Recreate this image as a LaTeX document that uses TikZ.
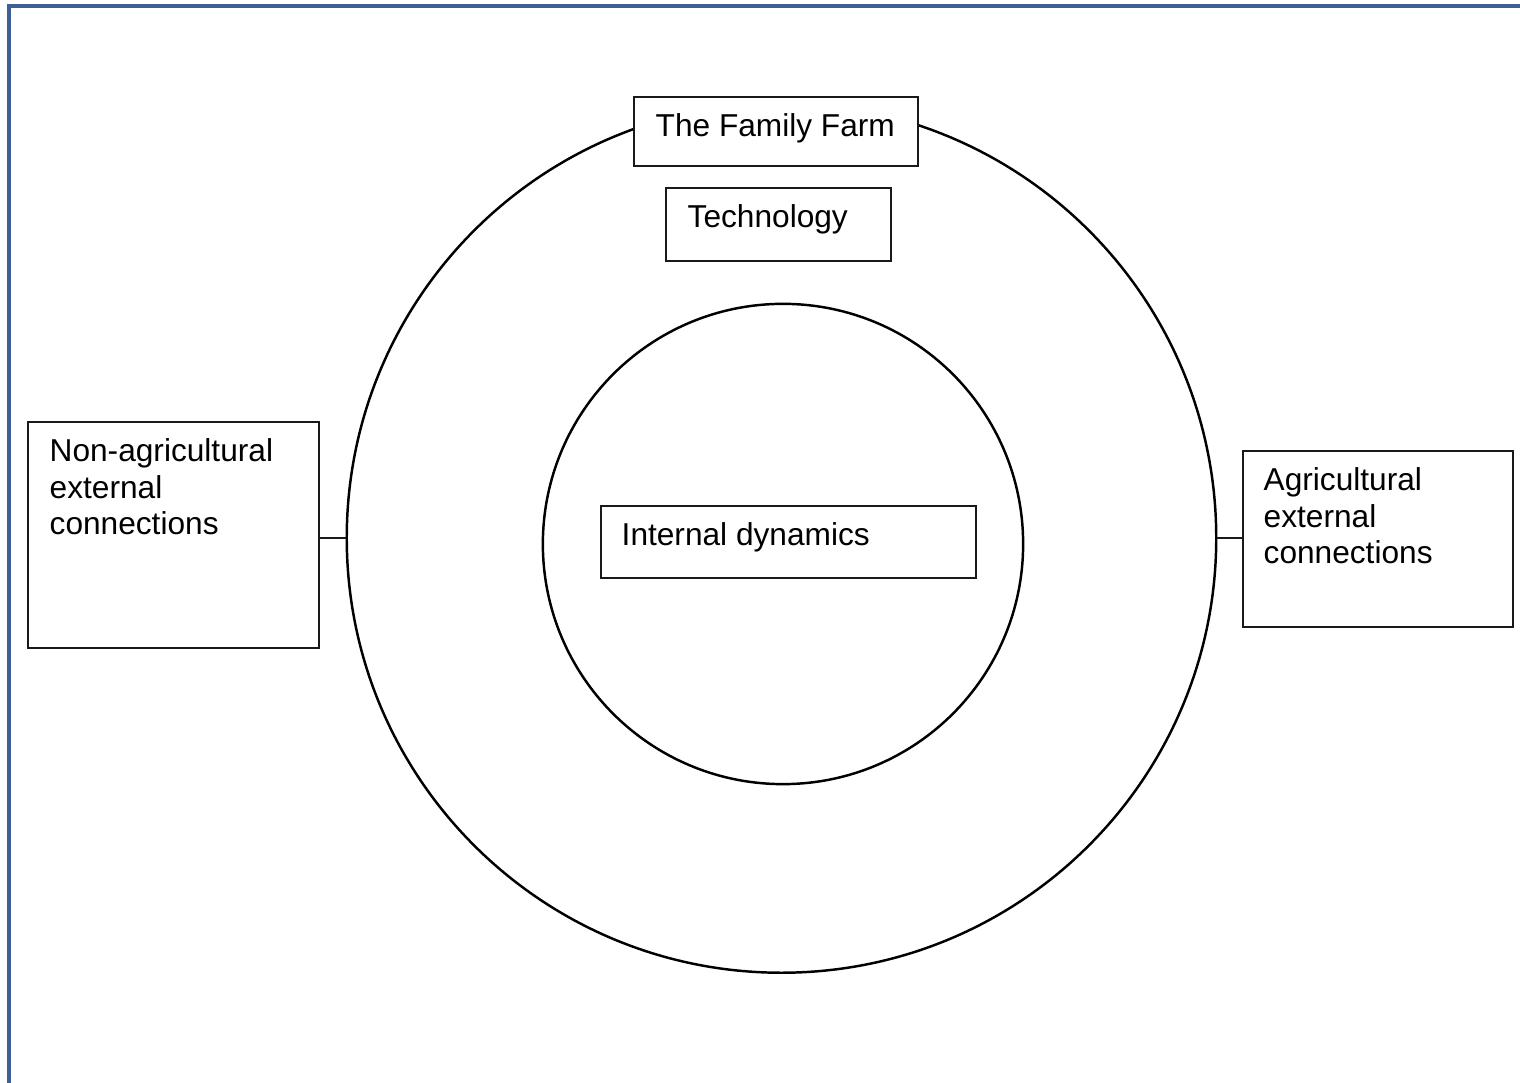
\documentclass[tikz,border=0pt]{standalone}
\usepackage{fontspec}
\setmainfont{Liberation Sans}
\usetikzlibrary{positioning}
\definecolor{framecol}{RGB}{62,96,150}

\tikzset{
  ring/.style={circle,draw=black,line width=0.7pt,inner sep=0pt},
  box/.style={rectangle,draw=black!90,fill=white,line width=0.42pt,inner sep=0pt},
  txt/.style={inner sep=0pt,align=left,anchor=base west,font=\fontsize{9}{10.4}\selectfont},
  link/.style={draw=black!90,line width=0.42pt}
}

\begin{document}
\begin{tikzpicture}[x=0.01cm,y=-0.01cm]
\useasboundingbox (0,0) rectangle (1520,1083);
% page frame
\draw[framecol,line width=1pt] (9,1100)--(9,6)--(1530,6);
% the two rings
\node[ring,minimum size=8.69cm] (farm) at (781.5,538) {};
\node[ring,minimum size=4.8cm] (core) at (783,544) {};
% boxes
\node[box,minimum width=2.84cm,minimum height=0.69cm] (title) at (776,131.5) {};
\node[box,minimum width=2.25cm,minimum height=0.73cm] (tech) at (778.5,224.5) {};
\node[box,minimum width=3.75cm,minimum height=0.72cm] (internal) at (788.5,542) {};
\node[box,minimum width=2.91cm,minimum height=2.26cm] (nonagri) at (173.5,535) {};
\node[box,minimum width=2.70cm,minimum height=1.76cm] (agri) at (1378,539) {};
% texts (base = last line)
\node[txt] (titletxt) at (655,137) {The Family Farm};
\node[txt] (techtxt) at (687,228) {Technology};
\node[txt] (internaltxt) at (621,546) {Internal dynamics};
\node[txt] (nonagritxt) at (49,535) {Non-agricultural\\external\\connections};
\node[txt] (agritxt) at (1263,564) {Agricultural\\external\\connections};
% connectors
\draw[link] (farm.west)--(farm.west -| nonagri.east);
\draw[link] (farm.east)--(farm.east -| agri.west);
\end{tikzpicture}
\end{document}
